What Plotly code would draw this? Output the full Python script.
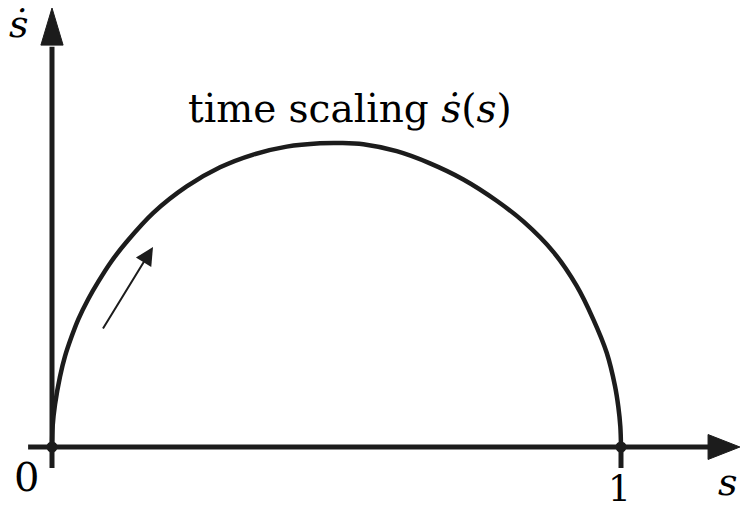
import plotly.graph_objects as go

# Curve data: s (path parameter) and s-dot (time scaling)
s_vals = [0.0, 0.0012, 0.0053, 0.0141, 0.0228, 0.0346, 0.0462, 0.0638, 0.0814, 0.1049,
          0.1313, 0.1780, 0.2367, 0.2953, 0.3538, 0.4125, 0.4710, 0.5062, 0.5471,
          0.6058, 0.6643, 0.7229, 0.7815, 0.8283, 0.8810, 0.9221, 0.9513, 0.9749,
          0.9895, 0.9953, 0.9988, 1.0]
sdot_vals = [0.0, 0.07, 0.14, 0.232, 0.298, 0.364, 0.420, 0.487, 0.544, 0.612,
             0.675, 0.770, 0.857, 0.920, 0.962, 0.988, 0.999, 1.0, 0.996,
             0.973, 0.933, 0.880, 0.810, 0.742, 0.642, 0.530, 0.420, 0.310,
             0.200, 0.132, 0.068, 0.0]

endpoint_s = [0.0, 1.0]
endpoint_sdot = [0.0, 0.0]
tick_labels = ["0", "1"]

title_text = "time scaling <i>ṡ</i>(<i>s</i>)"
x_label = "s"
y_label = "ṡ"

INK = "#1c1c1c"
SERIF = "DejaVu Serif"

fig = go.Figure()

fig.add_trace(go.Scatter(
    x=s_vals, y=sdot_vals, mode="lines",
    line=dict(color=INK, width=4.5, shape="spline", smoothing=1.0),
    hoverinfo="skip", showlegend=False))

fig.add_trace(go.Scatter(
    x=endpoint_s, y=endpoint_sdot, mode="markers",
    marker=dict(color=INK, size=11), hoverinfo="skip", showlegend=False))

# axes as arrows
x_start, x_base, x_tip = -0.042, 1.153, 1.209
y_start, y_base, y_tip = -0.069, 1.322, 1.444
hw_x = 0.041   # half-width of x-arrowhead (in y units)
hw_y = 0.0195  # half-width of y-arrowhead (in x units)

shapes = [
    dict(type="line", x0=x_start, y0=0, x1=x_base + 0.005, y1=0,
         line=dict(color=INK, width=5)),
    dict(type="line", x0=0, y0=y_start, x1=0, y1=y_base - 0.005,
         line=dict(color=INK, width=5)),
    dict(type="line", x0=1, y0=0, x1=1, y1=y_start,
         line=dict(color=INK, width=5)),
    dict(type="path",
         path=f"M {x_base},{-hw_x} L {x_tip},0 L {x_base},{hw_x} Z",
         fillcolor=INK, line=dict(color=INK, width=1)),
    dict(type="path",
         path=f"M {-hw_y},{y_base} L 0,{y_tip} L {hw_y},{y_base} Z",
         fillcolor=INK, line=dict(color=INK, width=1)),
]

annotations = [
    # direction arrow along the curve
    dict(x=0.1775, y=0.658, ax=0.088, ay=0.385, xref="x", yref="y",
         axref="x", ayref="y", text="", showarrow=True,
         arrowhead=2, arrowsize=1.8, arrowwidth=2, arrowcolor=INK),
    dict(x=0.524, y=1.115, xref="x", yref="y", text=title_text, showarrow=False,
         font=dict(family=SERIF, size=39, color="black"),
         xanchor="center", yanchor="middle"),
    dict(x=-0.0457, y=-0.099, xref="x", yref="y", text=tick_labels[0], showarrow=False,
         font=dict(family=SERIF, size=40, color="black"),
         xanchor="center", yanchor="middle"),
    dict(x=0.9965, y=-0.135, xref="x", yref="y", text=tick_labels[1], showarrow=False,
         font=dict(family=SERIF, size=36, color="black"),
         xanchor="center", yanchor="middle"),
    dict(x=1.188, y=-0.115, xref="x", yref="y", text=f"<i>{x_label}</i>", showarrow=False,
         font=dict(family=SERIF, size=38, color="black"),
         xanchor="center", yanchor="middle"),
    dict(x=-0.058, y=1.39, xref="x", yref="y", text=f"<i>{y_label}</i>", showarrow=False,
         font=dict(family=SERIF, size=38, color="black"),
         xanchor="center", yanchor="middle"),
]

fig.update_layout(
    width=741, height=511,
    margin=dict(l=0, r=0, t=0, b=0),
    paper_bgcolor="white", plot_bgcolor="white",
    xaxis=dict(range=[-52 / 569, 689 / 569], visible=False, fixedrange=True),
    yaxis=dict(range=[-64 / 304, 447 / 304], visible=False, fixedrange=True),
    shapes=shapes, annotations=annotations, showlegend=False,
)

fig.write_html(
    "out.html", config={"displayModeBar": False},
    post_script="document.body.style.margin='0';document.body.style.overflow='hidden';")
